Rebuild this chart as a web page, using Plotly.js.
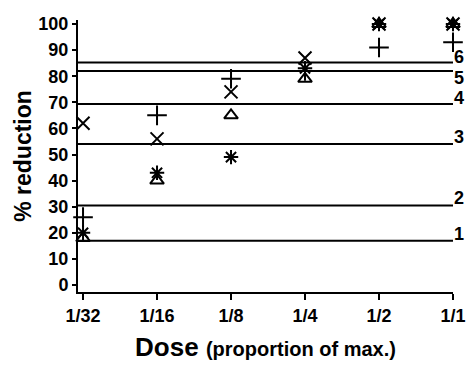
<!DOCTYPE html>
<html>
<head>
<meta charset="utf-8">
<script src="https://cdn.plot.ly/plotly-3.0.1.min.js"></script>
<style>html,body{margin:0;padding:0;background:#fff;}#chart{width:466px;height:370px;}</style>
</head>
<body>
<div id="chart"></div>
<script>
// ---- data ----
const doses = ['1/32', '1/16', '1/8', '1/4', '1/2', '1/1'];
const plusValues = [26, 65, 79, 82, 91, 93];
const crossValues = [62, 56, 74, 87, 100, 100];
const triangleValues = [18, 40, 65, 79, 100, 100];
const asteriskValues = [20, 43, 49, 83, 100, 100];
const refLevels = [17, 30.5, 54, 69.3, 82, 85.2];
const refLabels = ['1', '2', '3', '4', '5', '6'];
const yTickValues = [0, 10, 20, 30, 40, 50, 60, 70, 80, 90, 100];

// ---- styling ----
const FONT = '"Liberation Sans", Arial, Helvetica, sans-serif';
const labelShift = [7, 7, 7, 6, -7, 6];

function series(values, symbol, size) {
  return {
    type: 'scatter', mode: 'markers', x: doses, y: values, cliponaxis: false,
    marker: { symbol: symbol, size: size, color: 'black', line: { color: 'black', width: 2 } },
    hoverinfo: 'skip'
  };
}

const data = [
  series(triangleValues, 'triangle-up-open', 12),
  series(asteriskValues, 'asterisk-open', 12),
  series(crossValues, 'x-thin-open', 13),
  series(plusValues, 'cross-thin-open', 14)
];

const shapes = refLevels.map(v => ({
  type: 'line', xref: 'paper', yref: 'y', x0: 0, x1: 1, y0: v, y1: v,
  line: { color: 'black', width: 2 }
}));

const annotations = refLevels.map((v, i) => ({
  xref: 'paper', yref: 'y', x: 1, y: v, xanchor: 'left', yanchor: 'middle',
  xshift: -1, yshift: labelShift[i], showarrow: false, text: refLabels[i],
  font: { family: FONT, size: 18, color: 'black', weight: 'bold' }
}));

const layout = {
  width: 466, height: 370,
  margin: { l: 78, r: 13, t: 20, b: 78 },
  paper_bgcolor: 'white', plot_bgcolor: 'white',
  showlegend: false,
  font: { family: FONT, color: 'black' },
  xaxis: {
    type: 'category', categoryorder: 'array', categoryarray: doses,
    range: [-0.068, 5],
    showgrid: false, zeroline: false,
    showline: true, linecolor: 'black', linewidth: 2,
    ticks: 'outside', ticklen: 6, tickwidth: 2, tickcolor: 'black',
    tickfont: { family: FONT, size: 18, color: 'black', weight: 'bold' },
    title: {
      text: 'Dose <span style="font-size:20px">(proportion of max.)</span>',
      font: { family: FONT, size: 26, color: 'black', weight: 'bold' },
      standoff: 13
    },
    fixedrange: true
  },
  yaxis: {
    range: [-2.68, 101.53],
    tickvals: yTickValues,
    showgrid: false, zeroline: false,
    showline: true, linecolor: 'black', linewidth: 2,
    ticks: 'outside', ticklen: 4, tickwidth: 2, tickcolor: 'black',
    tickfont: { family: FONT, size: 18, color: 'black', weight: 'bold' },
    title: {
      text: '% reduction',
      font: { family: FONT, size: 23, color: 'black', weight: 'bold' },
      standoff: 0
    },
    fixedrange: true
  },
  shapes: shapes,
  annotations: annotations
};

Plotly.newPlot('chart', data, layout, { staticPlot: true, displayModeBar: false });
</script>
</body>
</html>
